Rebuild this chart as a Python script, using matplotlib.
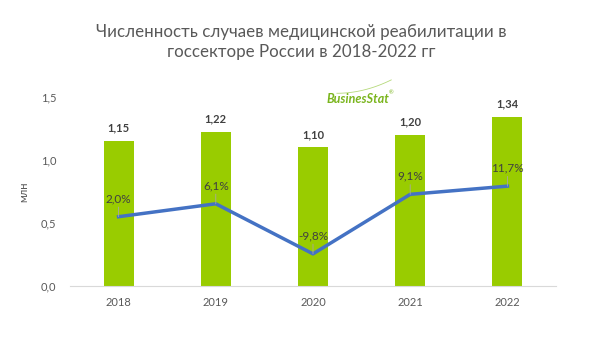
import numpy as np
import matplotlib.pyplot as plt
from matplotlib.ticker import FuncFormatter

years = ["2018", "2019", "2020", "2021", "2022"]
cases = [1.15, 1.22, 1.10, 1.20, 1.34]        # млн
growth = [2.0, 6.1, -9.8, 9.1, 11.7]          # %

plt.rcParams['font.family'] = ['Lato', 'DejaVu Sans']

fig = plt.figure(figsize=(5.91, 3.52), dpi=100)
ax = fig.add_axes([0.1184, 0.1875, 0.8224, 0.5369])

x = np.arange(len(years))
green = '#99CC00'
ax.bar(x, cases, width=0.31, color=green, zorder=2)
for xi, v in zip(x, cases):
    ax.text(xi, v + 0.06, f"{v:.2f}".replace('.', ','), ha='center', va='bottom',
            fontsize=8, fontweight='bold', color='#404040')

ax.set_xlim(-0.5, len(years) - 0.5)
ax.set_ylim(0, 1.5)
ax.set_yticks([0, 0.5, 1.0, 1.5])
ax.yaxis.set_major_formatter(FuncFormatter(lambda v, p: f"{v:.1f}".replace('.', ',')))
ax.set_xticks(x)
ax.set_xticklabels(years)
ax.tick_params(axis='both', length=0, labelsize=8, labelcolor='#595959')
ax.tick_params(axis='x', pad=8)
ax.tick_params(axis='y', pad=10)
for s in ['top', 'right', 'left']:
    ax.spines[s].set_visible(False)
ax.spines['bottom'].set_color('#d9d9d9')
ax.set_ylabel('млн', fontsize=8, color='#595959', labelpad=8)

# growth line on a hidden secondary axis
ax2 = ax.twinx()
ax2.set_ylim(-20, 40)
ax2.plot(x, growth, color='#4472C4', lw=2.5, zorder=3)
ax2.axis('off')
for xi, g in zip(x, growth):
    ax2.annotate(f"{g:.1f}%".replace('.', ','), xy=(xi, g), xytext=(0, 9),
                 textcoords='offset points', ha='center', va='bottom',
                 fontsize=8.5, color='#404040',
                 arrowprops=dict(arrowstyle='-', color='#a6a6a6', lw=0.6,
                                 shrinkA=0, shrinkB=0))

fig.text(0.51, 0.881, "Численность случаев медицинской реабилитации в\nгоссекторе России в 2018-2022 гг",
         ha='center', va='center', fontsize=12.2, color='#595959', linespacing=1.35)

# logo
fig.text(0.606, 0.72, "BusinesStat", ha='center', va='center', fontsize=9,
         fontweight='bold', fontstyle='italic', color='#7AB51D')
fig.text(0.658, 0.735, "®", ha='left', va='center', fontsize=4, color='#7AB51D')
sx = np.linspace(0.57, 0.662, 30)
sy = 0.735 + 0.038 * ((sx - 0.57) / 0.092) ** 2
fig.add_artist(plt.Line2D(sx, sy, color='#b5d97a', lw=0.6))

fig.savefig('out.png', dpi=100)
